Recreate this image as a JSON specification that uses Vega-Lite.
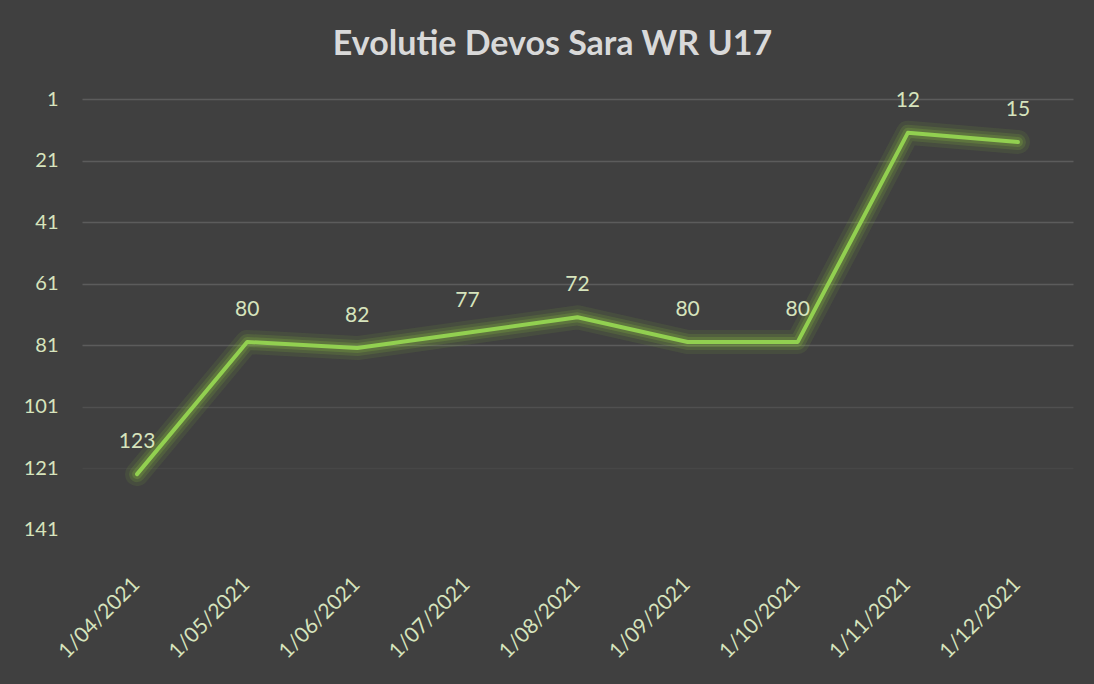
{
  "$schema": "https://vega.github.io/schema/vega-lite/v6.json",
  "autosize": {"type": "none"},
  "width": 991,
  "height": 492,
  "padding": {"left": 82, "top": 99, "right": 21, "bottom": 93},
  "background": "#404040",
  "title": {
    "text": "Evolutie Devos Sara WR U17",
    "font": "Lato",
    "fontSize": 34,
    "fontWeight": "bold",
    "color": "#d9d9d9",
    "anchor": "middle",
    "dx": -25,
    "offset": 27
  },
  "data": {
    "values": [
      {"datum": "1/04/2021", "rank": 123},
      {"datum": "1/05/2021", "rank": 80},
      {"datum": "1/06/2021", "rank": 82},
      {"datum": "1/07/2021", "rank": 77},
      {"datum": "1/08/2021", "rank": 72},
      {"datum": "1/09/2021", "rank": 80},
      {"datum": "1/10/2021", "rank": 80},
      {"datum": "1/11/2021", "rank": 12},
      {"datum": "1/12/2021", "rank": 15}
    ]
  },
  "encoding": {
    "x": {
      "field": "datum",
      "type": "ordinal",
      "sort": null,
      "scale": {"type": "point", "padding": 0.5},
      "axis": {
        "title": null,
        "labelAngle": -45,
        "labelAlign": "right",
        "labelBaseline": "middle",
        "labelPadding": -10,
        "labelOffset": -1,
        "ticks": false,
        "domain": false,
        "grid": false,
        "labelFont": "Lato",
        "labelFontSize": 21,
        "labelColor": "#d7e4bd"
      }
    },
    "y": {
      "field": "rank",
      "type": "quantitative",
      "scale": {"domain": [1, 161], "reverse": true, "nice": false, "zero": false},
      "axis": {
        "title": null,
        "values": [1, 21, 41, 61, 81, 101, 121, 141],
        "ticks": false,
        "domain": false,
        "labelPadding": 24,
        "labelFont": "Lato",
        "labelFontSize": 20,
        "labelColor": "#d7e4bd",
        "gridColor": "#5c5c5c",
        "gridWidth": 1.5,
        "gridOpacity": {
          "condition": [
            {"test": "datum.value <= 81", "value": 1},
            {"test": "datum.value == 101", "value": 0.55},
            {"test": "datum.value == 121", "value": 0.25}
          ],
          "value": 0
        }
      }
    }
  },
  "layer": [
    {"mark": {"type": "line", "color": "#8dc63f", "strokeWidth": 24, "opacity": 0.1, "strokeJoin": "round", "strokeCap": "round"}},
    {"mark": {"type": "line", "color": "#8dc63f", "strokeWidth": 16, "opacity": 0.15, "strokeJoin": "round", "strokeCap": "round"}},
    {"mark": {"type": "line", "color": "#8dc63f", "strokeWidth": 10, "opacity": 0.22, "strokeJoin": "round", "strokeCap": "round"}},
    {"mark": {"type": "line", "color": "#92d050", "strokeWidth": 4, "strokeJoin": "round", "strokeCap": "round"}},
    {
      "mark": {"type": "text", "dy": -32, "font": "Lato", "fontSize": 21, "color": "#d7e4bd"},
      "encoding": {"text": {"field": "rank", "type": "quantitative"}}
    }
  ],
  "config": {"view": {"stroke": null}}
}
